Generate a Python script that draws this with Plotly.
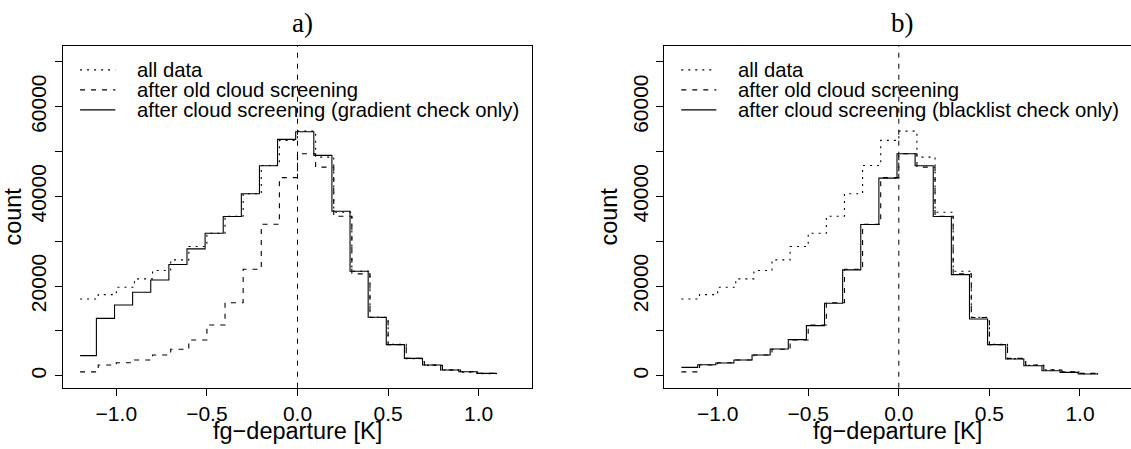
import plotly.graph_objects as go

# bin left edges of the fg-departure histograms [K]
bin_left = [-1.2, -1.1, -1.0, -0.9, -0.8, -0.7, -0.6, -0.5, -0.4, -0.3, -0.2, -0.1,
            0.0, 0.1, 0.2, 0.3, 0.4, 0.5, 0.6, 0.7, 0.8, 0.9, 1.0]
x_end = 1.1

# counts per bin
all_data = [17130, 18090, 19730, 21600, 23460, 25850, 28820, 31800, 35590, 40590, 46900, 52500,
            54580, 48770, 36480, 23300, 13030, 7000, 3800, 2300, 1300, 800, 450]
old_screening = [850, 2390, 2900, 3500, 4620, 5890, 7970, 11310, 16290, 23740, 33780, 44190,
                 49530, 46540, 35590, 22720, 13000, 6930, 3870, 2390, 1270, 890, 520]
gradient_only = [4470, 12800, 15790, 18620, 21370, 24800, 28300, 31800, 35520, 40590, 46840, 52720,
                 54440, 49150, 36700, 23300, 13030, 6930, 3870, 2390, 1270, 890, 520]
blacklist_only = [1860, 2460, 2830, 3500, 4620, 5960, 8040, 11170, 16150, 23610, 33730, 44080,
                  49530, 46850, 35520, 22560, 12660, 6930, 3730, 2230, 1120, 740, 370]

# the new-screening histogram was computed on slightly shifted breaks
new_shift = -0.01

legend_a = ['all data', 'after old cloud screening', 'after cloud screening (gradient check only)']
legend_b = ['all data', 'after old cloud screening', 'after cloud screening (blacklist check only)']
panel_titles = ['a)', 'b)']
x_title = 'fg\u2212departure [K]'
y_title = 'count'

x_ticks = [-1.0, -0.5, 0.0, 0.5, 1.0]
x_ticktext = ['\u22121.0', '\u22120.5', '0.0', '0.5', '1.0']
y_ticks = [0, 10000, 20000, 30000, 40000, 50000, 60000, 70000]
y_ticktext = ['0', '', '20000', '', '40000', '', '60000', '']

SANS = 'Liberation Sans, Arial, sans-serif'
SERIF = 'Liberation Serif, Times New Roman, serif'
DOT = '2px,5px'
DASH = '5px,6px'
H = 449


def step_xy(counts, shift=0.0):
    xs = [bin_left[0]] + [b + shift for b in bin_left[1:]] + [x_end]
    ys = list(counts) + [counts[-1]]
    return xs, ys


fig = go.Figure()

panels = [
    ('x', 'y', gradient_only, legend_a),
    ('x2', 'y2', blacklist_only, legend_b),
]
for xa, ya, new_counts, labels in panels:
    for counts, dash, shift in [(all_data, DOT, 0.0), (old_screening, DASH, 0.0),
                                (new_counts, 'solid', new_shift)]:
        xs, ys = step_xy(counts, shift)
        fig.add_trace(go.Scatter(x=xs, y=ys, mode='lines', line_shape='hv',
                                 line=dict(color='black', width=1.1, dash=dash),
                                 xaxis=xa, yaxis=ya, showlegend=False, hoverinfo='skip'))

    # vertical reference line at zero departure
    fig.add_shape(type='line', xref=xa, yref=ya + ' domain', x0=0, x1=0, y0=0, y1=1,
                  line=dict(color='black', width=1, dash=DASH))

    # hand-drawn legend in the upper left corner
    for i, (lab, dash) in enumerate(zip(labels, [DOT, DASH, 'solid'])):
        yy = 0.930 - i * 0.0585
        fig.add_shape(type='line', xref=xa + ' domain', yref=ya + ' domain',
                      x0=0.037, x1=0.112, y0=yy, y1=yy,
                      line=dict(color='black', width=1.1, dash=dash))
        fig.add_annotation(xref=xa + ' domain', yref=ya + ' domain', x=0.155, y=yy,
                           text=lab, showarrow=False, xanchor='left', yanchor='middle',
                           font=dict(family=SANS, size=20.3, color='black'))

    # x axis title
    fig.add_annotation(xref=xa + ' domain', yref='paper', x=0.5, y=1 - 431 / H,
                       text=x_title, showarrow=False, xanchor='center', yanchor='middle',
                       font=dict(family=SANS, size=23.5, color='black'))

axis_common = dict(showline=True, linecolor='black', linewidth=1, ticks='outside',
                   ticklen=7, tickwidth=1, tickcolor='black', showgrid=False, zeroline=False,
                   tickfont=dict(family=SANS, size=21, color='black'))
x_common = dict(tickvals=x_ticks, ticktext=x_ticktext, **axis_common)
y_common = dict(domain=[0.1365, 0.8976], range=[-2680, 73570], tickvals=y_ticks,
                ticktext=y_ticktext, tickangle=-90,
                title=dict(text=y_title, font=dict(family=SANS, size=23.5, color='black'),
                           standoff=4), **axis_common)

fig.update_layout(
    width=1131, height=H, autosize=False,
    margin=dict(l=0, r=0, t=0, b=0),
    paper_bgcolor='white', plot_bgcolor='white',
    xaxis=dict(domain=[0.05544, 0.47065], range=[-1.296, 1.296], anchor='y', mirror=True,
               **x_common),
    yaxis=dict(anchor='x', mirror=True, **y_common),
    xaxis2=dict(domain=[0.58709, 1.0], range=[-1.296, 1.2815], anchor='y2', mirror=True,
                **x_common),
    yaxis2=dict(anchor='x2', mirror=False, **y_common),
)

# panel titles
for xa, title in zip(['x', 'x2'], panel_titles):
    fig.add_annotation(xref=xa + ' domain', yref='paper', x=0.51, y=1 - 23 / H,
                       text=title, showarrow=False, xanchor='center', yanchor='middle',
                       font=dict(family=SERIF, size=27, color='black'))

fig.write_html('out.html', config={'displayModeBar': False},
               post_script="document.body.style.margin='0px';")
